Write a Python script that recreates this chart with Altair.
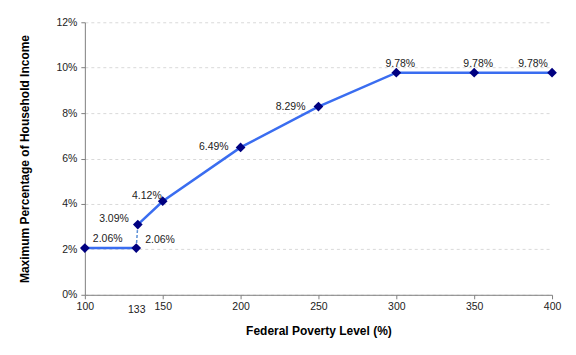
import altair as alt
import pandas as pd

# Data
fpl = [100, 133, 134, 150, 200, 250, 300, 350, 400]
pct = [2.06, 2.06, 3.09, 4.12, 6.49, 8.29, 9.78, 9.78, 9.78]
x_ticks = [100, 133, 150, 200, 250, 300, 350, 400]
y_ticks = [0, 2, 4, 6, 8, 10, 12]

pts = pd.DataFrame({"fpl": fpl, "share": [v / 100 for v in pct],
                    "label": [f"{v:.2f}%" for v in pct]})
pts["idx"] = range(len(pts))

# line segments (by point index): solid, dashed (jump at 133), solid
segments = [("s1", [0, 1], "solid"), ("d", [1, 2], "dash"), ("s2", list(range(2, 9)), "solid")]
rows = []
for name, ids, style in segments:
    for i in ids:
        rows.append({"seg": name, "style": style, "fpl": fpl[i], "share": pct[i] / 100, "ord": i})
lines = pd.DataFrame(rows)

FONT = "Liberation Sans"
LINE = "#3a6df0"
MARK = "#000080"
FS = 10.5

xs = alt.X("fpl:Q", scale=alt.Scale(domain=[100, 400], nice=False, zero=False),
           axis=alt.Axis(values=x_ticks, title="Federal Poverty Level (%)", grid=False,
                         labelFlush=False,
                         labelPadding={"condition": {"test": "datum.value == 133", "value": 6}, "value": 3},
                         tickOpacity={"condition": {"test": "datum.value == 133", "value": 0}, "value": 1},
                         titlePadding=10))
ys = alt.Y("share:Q", scale=alt.Scale(domain=[0, 0.12], nice=False),
           axis=alt.Axis(values=[v / 100 for v in y_ticks], format=".0%",
                         title="Maximum Percentage of Household Income",
                         titlePadding=24))

base_line = alt.Chart(lines).encode(x=xs, y=ys, detail="seg:N", order="ord:Q")
solid = base_line.transform_filter("datum.style == 'solid'").mark_line(color=LINE, strokeWidth=2.5)
dashed = base_line.transform_filter("datum.style == 'dash'").mark_line(
    color="#5b8fd6", strokeWidth=1.5, strokeDash=[3, 2])

points = alt.Chart(pts).mark_point(shape="diamond", filled=True, color=MARK, size=95,
                                   opacity=1).encode(x=xs, y=ys)

# label placement (layout): point index -> (align, dx, dy)
placement = {0: ("left", 8, -9), 1: ("left", 9, -8), 2: ("right", -9, -6),
             3: ("right", -1, -5), 4: ("right", -12, 0), 5: ("right", -13, 0),
             6: ("center", 4, -9), 7: ("center", 4, -9), 8: ("center", -19, -9)}
texts = []
for i, (al, dx, dy) in placement.items():
    texts.append(alt.Chart(pts).transform_filter(f"datum.idx == {i}").mark_text(
        align=al, baseline="middle", dx=dx, dy=dy, font=FONT, fontSize=FS, color="#222"
    ).encode(x="fpl:Q", y="share:Q", text="label:N"))

chart = alt.layer(solid, dashed, points, *texts).properties(
    width=468, height=273,
    autosize=alt.AutoSizeParams(type="none"),
    padding={"left": 85, "top": 22, "right": 24, "bottom": 60},
).configure_view(stroke=None).configure_axis(
    labelFont=FONT, labelFontSize=FS, labelColor="#222",
    titleFont=FONT, titleFontSize=12, titleFontWeight="bold", titleColor="#000",
    domainColor="#808080", tickColor="#808080", tickSize=4,
    gridColor="#d9d9d9", gridDash=[3, 3], gridWidth=1,
).configure_axisY(labelPadding=4, domain=True)

chart.save("out.html", embed_options={"renderer": "svg", "actions": False})
